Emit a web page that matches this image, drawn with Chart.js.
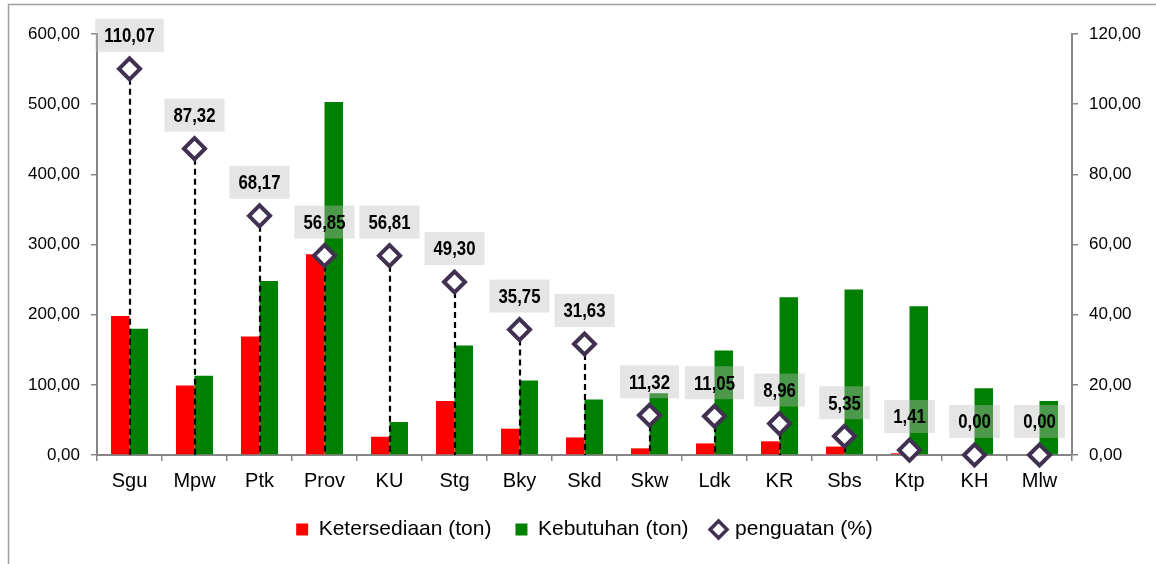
<!DOCTYPE html>
<html lang="en">

<head>
    <meta charset="UTF-8">
    <title>Ketersediaan dan Kebutuhan</title>
    <script src="https://cdn.jsdelivr.net/npm/chart.js"></script>
    <style>
        body { margin: 0; background: #fff; }
    </style>
</head>

<body>

    <div style="width: 1156px; height: 564px;">
        <canvas id="comboChart"></canvas>
    </div>

    <script>
        // Data
        const regions = ['Sgu', 'Mpw', 'Ptk', 'Prov', 'KU', 'Stg', 'Bky', 'Skd', 'Skw', 'Ldk', 'KR', 'Sbs', 'Ktp', 'KH', 'Mlw'];
        const ketersediaan = [198, 99, 169, 286, 26, 77, 37.5, 25, 9.5, 16.5, 19.5, 12, 2.4, 0, 0];
        const kebutuhan = [180, 113, 248, 503, 47, 156, 106, 79, 88, 149, 225, 236, 212, 95, 77];
        const penguatan = [110.07, 87.32, 68.17, 56.85, 56.81, 49.30, 35.75, 31.63, 11.32, 11.05, 8.96, 5.35, 1.41, 0.00, 0.00];

        const leftTicks = { min: 0, max: 600, step: 100 };
        const rightTicks = { min: 0, max: 120, step: 20 };

        const axisGray = '#868686';
        const markerColor = '#403151';
        const fontFamily = '"Liberation Sans", Arial, sans-serif';

        function fmt(v) {
            return v.toFixed(2).replace('.', ',');
        }

        // Outer frame of the chart
        const frame = {
            id: 'frame',
            beforeDraw(chart) {
                const ctx = chart.ctx;
                ctx.save();
                ctx.fillStyle = '#fff';
                ctx.fillRect(0, 0, chart.width, chart.height);
                ctx.strokeStyle = '#a0a0a0';
                ctx.lineWidth = 1.5;
                ctx.strokeRect(8.5, 4.5, chart.width + 20, chart.height + 20);
                ctx.restore();
            }
        };

        // Dashed drop lines under the markers and the grey value boxes
        const valueLabels = {
            id: 'valueLabels',
            beforeDatasetDraw(chart, args) {
                if (args.index !== 2) return;
                const ctx = chart.ctx;
                const base = chart.scales.y1.getPixelForValue(0);
                ctx.save();
                ctx.setLineDash([6, 4]);
                ctx.lineWidth = 2.2;
                ctx.strokeStyle = '#000';
                args.meta.data.forEach(p => {
                    ctx.beginPath();
                    ctx.moveTo(Math.round(p.x), p.y);
                    ctx.lineTo(Math.round(p.x), base);
                    ctx.stroke();
                });
                ctx.restore();
            },
            afterDatasetsDraw(chart) {
                const ctx = chart.ctx;
                const meta = chart.getDatasetMeta(2);
                const squeeze = 0.8; // narrow bold look
                ctx.save();
                ctx.font = 'bold 21px ' + fontFamily;
                ctx.textAlign = 'center';
                ctx.textBaseline = 'middle';
                meta.data.forEach((p, i) => {
                    const txt = fmt(penguatan[i]);
                    const w = ctx.measureText(txt).width * squeeze + 18;
                    const h = 33;
                    const bottom = p.y - 17;
                    ctx.fillStyle = 'rgba(190, 190, 190, 0.4)';
                    ctx.fillRect(p.x - w / 2, bottom - h, w, h);
                    ctx.save();
                    ctx.translate(p.x, bottom - h / 2 + 1);
                    ctx.scale(squeeze, 1);
                    ctx.fillStyle = '#000';
                    ctx.fillText(txt, 0, 0);
                    ctx.restore();
                });
                ctx.restore();
            }
        };

        const ctx = document.getElementById('comboChart').getContext('2d');
        new Chart(ctx, {
            type: 'bar',
            data: {
                labels: regions,
                datasets: [{
                    label: 'Ketersediaan (ton)',
                    data: ketersediaan,
                    backgroundColor: '#ff0000',
                    yAxisID: 'y',
                    order: 1
                }, {
                    label: 'Kebutuhan (ton)',
                    data: kebutuhan,
                    backgroundColor: '#008000',
                    yAxisID: 'y',
                    order: 1
                }, {
                    type: 'line',
                    label: 'penguatan (%)',
                    data: penguatan,
                    yAxisID: 'y1',
                    showLine: false,
                    clip: false,
                    pointStyle: 'rectRot',
                    pointRadius: 10.5,
                    pointHoverRadius: 10.5,
                    pointBorderWidth: 4,
                    pointBackgroundColor: '#fff',
                    pointBorderColor: markerColor,
                    order: 0
                }]
            },
            options: {
                responsive: true,
                maintainAspectRatio: false,
                animation: false,
                categoryPercentage: 0.57,
                barPercentage: 1.0,
                layout: {
                    padding: { top: 34, bottom: 14, left: 0, right: 0 }
                },
                plugins: {
                    tooltip: { enabled: false },
                    legend: {
                        position: 'bottom',
                        fullSize: false,
                        labels: {
                            usePointStyle: true,
                            boxWidth: 12,
                            boxHeight: 12,
                            padding: 24,
                            color: '#000',
                            font: { family: fontFamily, size: 21 },
                            generateLabels(chart) {
                                const items = Chart.defaults.plugins.legend.labels.generateLabels(chart);
                                items.sort((a, b) => a.datasetIndex - b.datasetIndex);
                                items.forEach(item => {
                                    if (item.datasetIndex < 2) {
                                        item.pointStyle = 'rect';
                                        item.lineWidth = 0;
                                    } else {
                                        item.pointStyle = 'rectRot';
                                        item.fillStyle = '#fff';
                                        item.strokeStyle = markerColor;
                                        item.lineWidth = 3.5;
                                    }
                                });
                                return items;
                            }
                        }
                    }
                },
                scales: {
                    x: {
                        afterFit(scale) { scale.height = 40; },
                        grid: {
                            display: true,
                            drawOnChartArea: false,
                            drawTicks: true,
                            tickLength: 6,
                            color: axisGray,
                            lineWidth: 1.5
                        },
                        border: { display: true, color: axisGray, width: 2 },
                        ticks: {
                            color: '#000',
                            padding: 8,
                            font: { family: fontFamily, size: 20 }
                        }
                    },
                    y: {
                        position: 'left',
                        min: leftTicks.min,
                        max: leftTicks.max,
                        afterFit(scale) { scale.width = 97; },
                        grid: {
                            drawOnChartArea: false,
                            tickLength: 6,
                            color: axisGray,
                            lineWidth: 1.5
                        },
                        border: { display: true, color: axisGray, width: 2 },
                        ticks: {
                            stepSize: leftTicks.step,
                            color: '#000',
                            padding: 11,
                            font: { family: fontFamily, size: 17 },
                            callback: v => fmt(v)
                        }
                    },
                    y1: {
                        position: 'right',
                        min: rightTicks.min,
                        max: rightTicks.max,
                        afterFit(scale) { scale.width = 84; },
                        grid: {
                            drawOnChartArea: false,
                            tickLength: 6,
                            color: axisGray,
                            lineWidth: 1.5
                        },
                        border: { display: true, color: axisGray, width: 2 },
                        ticks: {
                            stepSize: rightTicks.step,
                            color: '#000',
                            padding: 11,
                            font: { family: fontFamily, size: 17 },
                            callback: v => fmt(v)
                        }
                    }
                }
            },
            plugins: [frame, valueLabels]
        });
    </script>

</body>

</html>
